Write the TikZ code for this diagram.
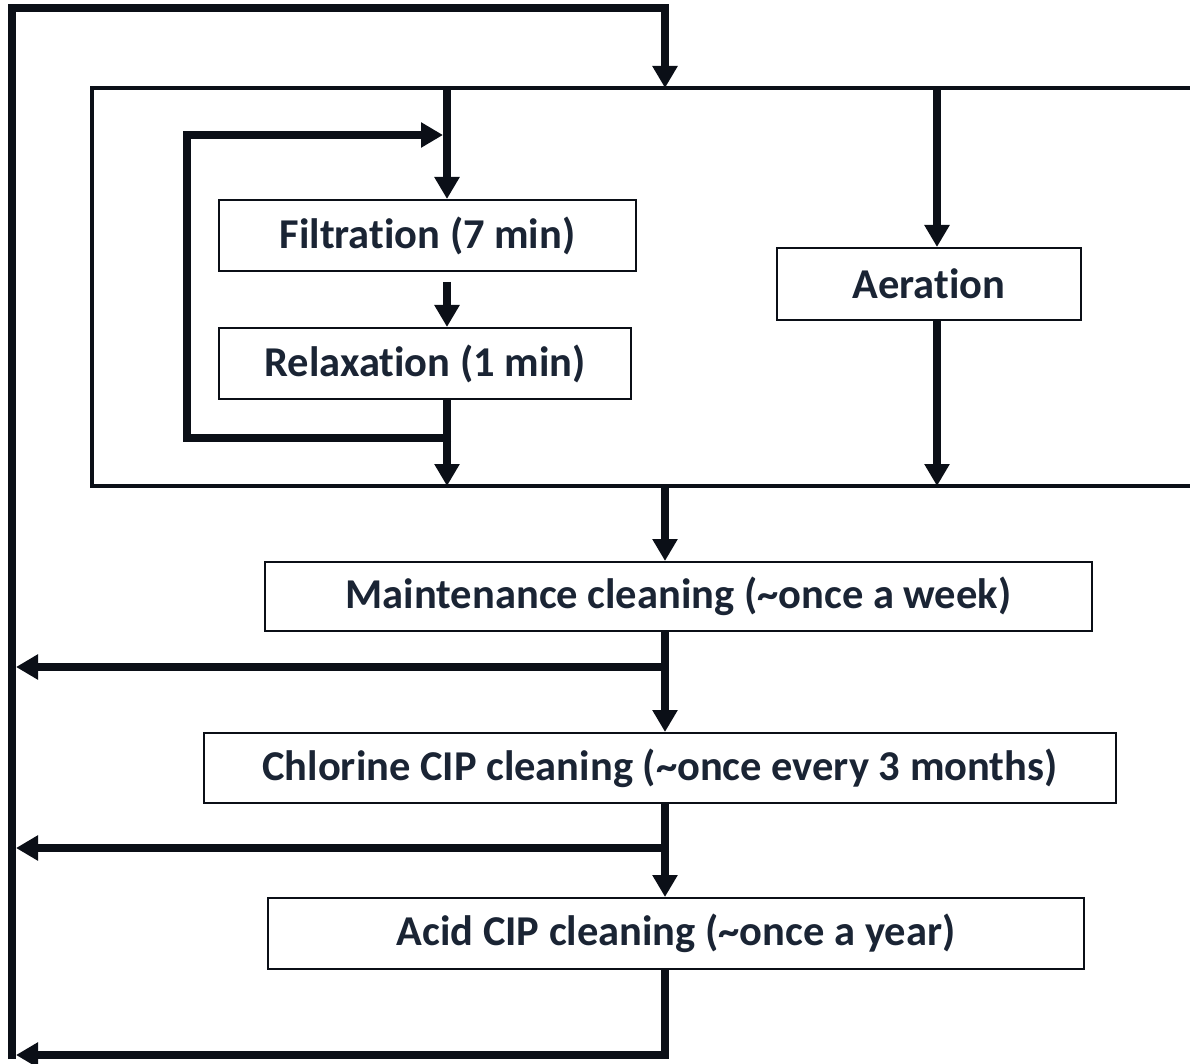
\documentclass[tikz,border=0pt]{standalone}
\usepackage{fontspec}
\setmainfont{Carlito}[Ligatures=NoCommon]
\usetikzlibrary{arrows.meta}
\definecolor{ink}{HTML}{0B0F17}
\definecolor{txt}{HTML}{1A2434}
\begin{document}
\begin{tikzpicture}[x=1pt,y=-1pt,
  box/.style={draw=ink, line width=2pt, fill=white, text=txt,
    font=\bfseries\fontsize{42.5}{48}\selectfont, inner sep=0pt},
  flow/.style={draw=ink, line width=8pt, line join=miter,
    -{Triangle[width=24pt,length=22pt]}},
  frame/.style={draw=ink, line width=3.5pt, line join=miter}]
\useasboundingbox (0,0) rectangle (1190,1064);

% named columns / rows
\coordinate (colA) at (447,0);
\coordinate (colB) at (937,0);
\coordinate (colM) at (665,0);
\coordinate (outer) at (12,0);
\coordinate (ftop) at (0,88);
\coordinate (fbot) at (0,486);

% big frame (open to the right)
\draw[frame] (1192,88) -- (92,88) -- (92,486) -- (1192,486);

% boxes
\node[box, minimum width=417pt, minimum height=71pt] (filt) at (427.5,235.5) {Filtration (7 min)};
\node[box, minimum width=412pt, minimum height=71pt] (relax) at (425,363.5) {Relaxation (1 min)};
\node[box, minimum width=304pt, minimum height=72pt] (aer) at (929,284) {Aeration};
\node[box, minimum width=827pt, minimum height=69pt] (maint) at (678.5,596.5) {Maintenance cleaning (\textasciitilde once a week)};
\node[box, minimum width=912pt, minimum height=70pt] (chl) at (660,768) {Chlorine CIP cleaning (\textasciitilde once every 3 months)};
\node[box, minimum width=816pt, minimum height=71pt] (acid) at (676,933.5) {Acid CIP cleaning (\textasciitilde once a year)};

% outer loop into the frame
\draw[flow] (12,1059) -- (outer |- 0,8) -- (colM |- 0,8) -- (colM |- ftop);

% left column
\draw[flow] (colA |- ftop) -- (colA |- filt.north);
\draw[flow] (colA |- filt.south) ++(0,10) -- (colA |- relax.north);
\draw[flow] (colA |- relax.south) -- (colA |- fbot);
\draw[flow] (451,438) -- (187,438) -- (187,135) -- (443,135);

% aeration column
\draw[flow] (colB |- ftop) -- (colB |- aer.north);
\draw[flow] (colB |- aer.south) -- (colB |- fbot);

% cleaning chain
\draw[flow] (colM |- fbot) -- (colM |- maint.north);
\draw[flow] (colM |- maint.south) -- (colM |- chl.north);
\draw[flow] (669,667) -- (16,667);
\draw[flow] (colM |- chl.south) -- (colM |- acid.north);
\draw[flow] (669,848) -- (16,848);
\draw[flow] (colM |- acid.south) -- (colM |- 0,1055) -- (16,1055);
\end{tikzpicture}
\end{document}
